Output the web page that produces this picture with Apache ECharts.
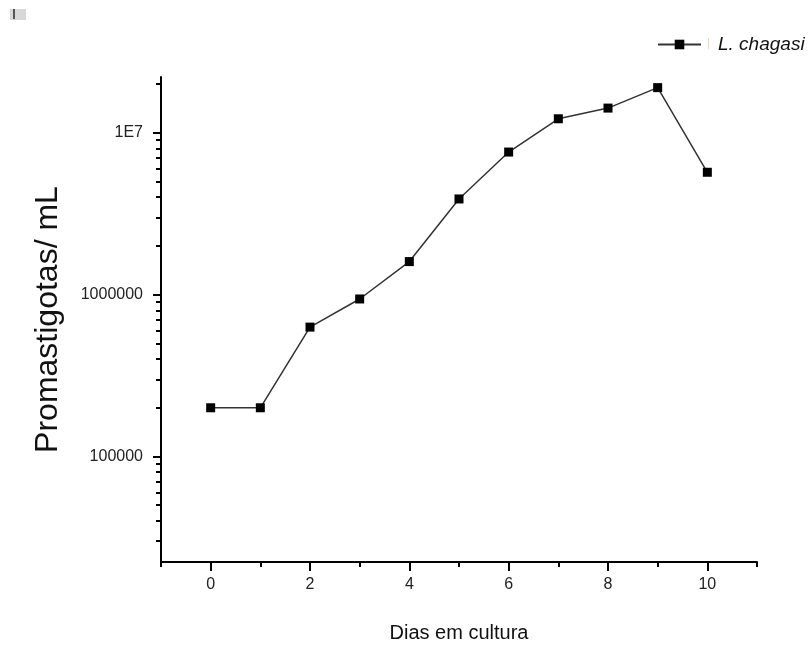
<!DOCTYPE html>
<html>
<head>
<meta charset="utf-8">
<script src="https://cdn.jsdelivr.net/npm/echarts@6/dist/echarts.min.js"></script>
<style>html,body{margin:0;padding:0;background:#fff;}#c{width:809px;height:648px;}</style>
</head>
<body>
<div id="c"></div>
<script>
const days = [0, 1, 2, 3, 4, 5, 6, 7, 8, 9, 10];
const promastigotas = [200000, 200000, 630000, 940000, 1600000, 3900000, 7600000, 12200000, 14200000, 19000000, 5700000];
const xMajorTicks = [0, 2, 4, 6, 8, 10];
const xMinorTicks = [-1, 1, 3, 5, 7, 9, 11];
const yMajorTicks = [100000, 1000000, 10000000];
const yMajorLabels = ['100000', '1000000', '1E7'];
const yMinorTicks = [30000, 40000, 50000, 60000, 70000, 80000, 90000,
  200000, 300000, 400000, 500000, 600000, 700000, 800000, 900000,
  2000000, 3000000, 4000000, 5000000, 6000000, 7000000, 8000000, 9000000,
  20000000];
const seriesName = 'L. chagasi';

const chart = echarts.init(document.getElementById('c'), null, {renderer: 'canvas'});
const font = '"Liberation Sans", Arial, sans-serif';
const yMin = 22300, yMax = 22100000;
chart.setOption({
  animation: false,
  backgroundColor: '#fff',
  grid: {left: 161, right: 52, top: 77, bottom: 86, containLabel: false},
  legend: {
    data: [seriesName],
    left: 657, top: 35, padding: 0,
    itemWidth: 43, itemHeight: 12, itemGap: 10,
    textStyle: {fontFamily: font, fontSize: 19, fontStyle: 'italic', color: '#111', padding: [0, 0, 0, 12]}
  },
  graphic: [
    {type: 'rect', shape: {x: 10, y: 9, width: 16, height: 11}, style: {fill: '#d8d8d8'}},
    {type: 'rect', shape: {x: 13, y: 9, width: 2, height: 10}, style: {fill: '#555'}},
    {type: 'rect', shape: {x: 708, y: 38, width: 1, height: 11}, style: {fill: '#efd6b6'}}
  ],
  xAxis: [{
    type: 'value', min: -1, max: 11,
    name: 'Dias em cultura', nameLocation: 'middle', nameGap: 61,
    nameTextStyle: {fontFamily: font, fontSize: 20, color: '#111'},
    axisLine: {show: true, onZero: false, lineStyle: {color: '#000', width: 2}},
    axisTick: {show: true, length: 9, lineStyle: {color: '#000', width: 2}, customValues: xMajorTicks},
    axisLabel: {show: true, margin: 15, fontFamily: font, fontSize: 16, color: '#222', customValues: xMajorTicks},
    splitLine: {show: false}
  }, {
    type: 'value', min: -1, max: 11, position: 'bottom', offset: 0,
    axisLine: {show: false, onZero: false},
    axisTick: {show: true, length: 5, lineStyle: {color: '#000', width: 2}, customValues: xMinorTicks},
    axisLabel: {show: false},
    splitLine: {show: false}
  }],
  yAxis: [{
    type: 'log', logBase: 10, min: yMin, max: yMax, position: 'left',
    name: 'Promastigotas/ mL', nameLocation: 'middle', nameGap: 97, nameRotate: 90,
    nameTextStyle: {fontFamily: font, fontSize: 32, color: '#111'},
    axisLine: {show: true, onZero: false, lineStyle: {color: '#000', width: 2}},
    axisTick: {show: true, length: 8, lineStyle: {color: '#000', width: 2}, customValues: yMajorTicks},
    axisLabel: {
      show: true, margin: 18, fontFamily: font, fontSize: 16, color: '#222',
      customValues: yMajorTicks,
      formatter: function (v) {
        const i = yMajorTicks.findIndex(t => Math.abs(t - v) / t < 1e-6);
        return i >= 0 ? yMajorLabels[i] : '';
      }
    },
    splitLine: {show: false}
  }, {
    type: 'log', logBase: 10, min: yMin, max: yMax, position: 'left', offset: 0,
    axisLine: {show: false, onZero: false},
    axisTick: {show: true, length: 5, lineStyle: {color: '#000', width: 2}, customValues: yMinorTicks},
    axisLabel: {show: false},
    splitLine: {show: false}
  }],
  series: [{
    name: seriesName,
    type: 'line',
    xAxisIndex: 0, yAxisIndex: 0,
    data: days.map((d, i) => [d, promastigotas[i]]),
    symbol: 'rect', symbolSize: 9,
    itemStyle: {color: '#000'},
    lineStyle: {color: '#333', width: 1.5}
  }]
});
</script>
</body>
</html>
